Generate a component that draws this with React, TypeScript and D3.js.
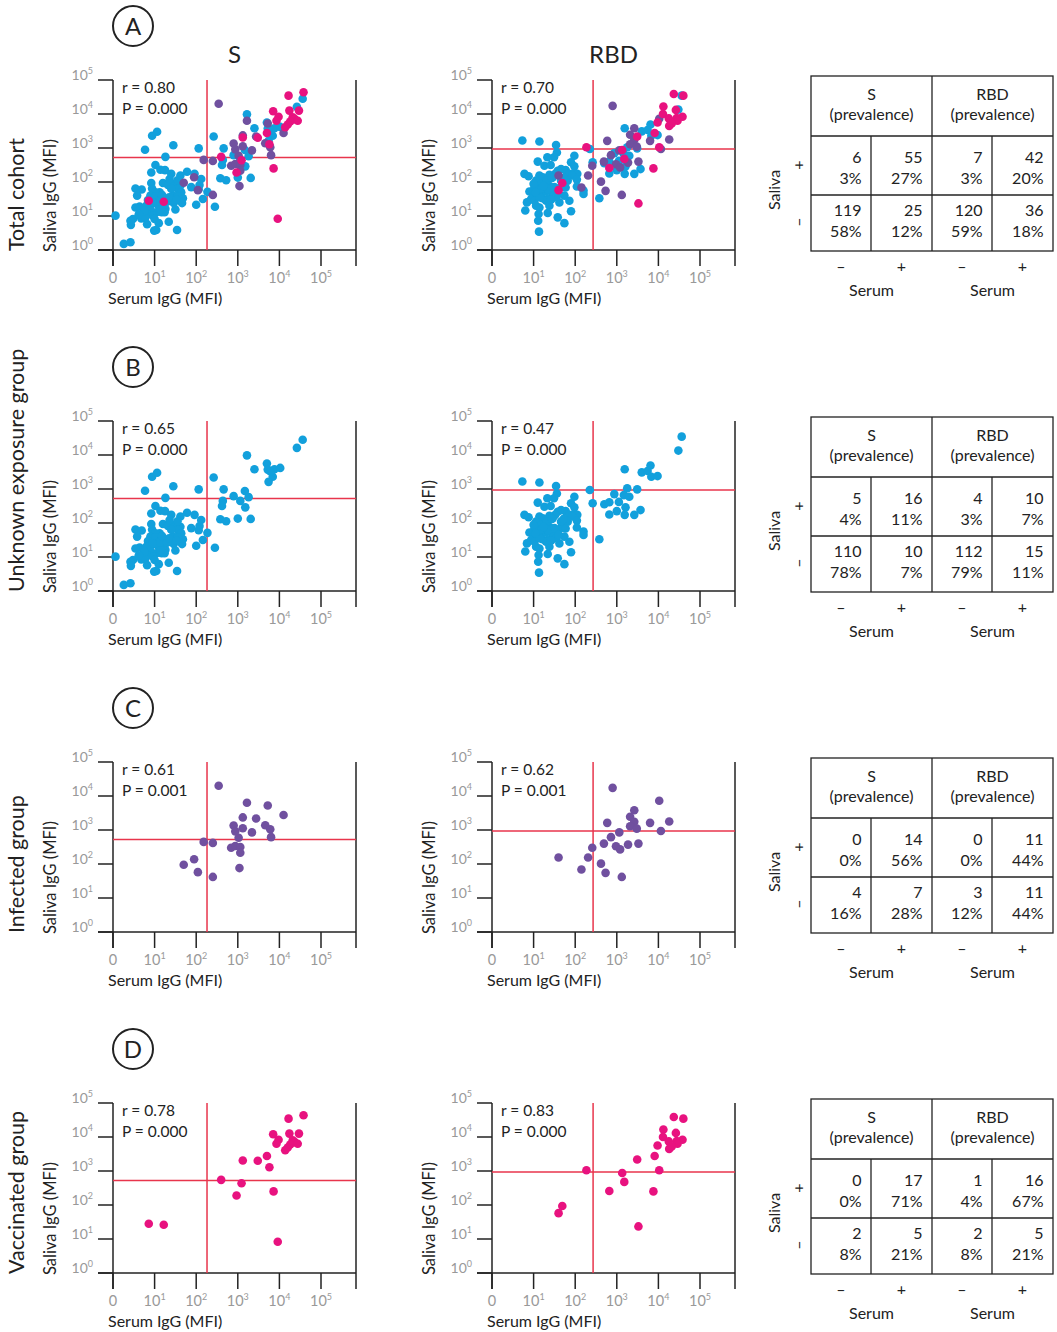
import React from 'react';
import * as d3 from 'd3';

// Each point is [log10 serum IgG MFI, log10 saliva IgG MFI]
const unknownS: [number, number][] = [
  [4.56, 4.45], [4.42, 4.21], [3.22, 3.99], [3.70, 3.75], [3.40, 3.58], [3.72, 3.57], [3.88, 3.58], [4.02, 3.62],
  [3.84, 3.36], [3.74, 3.21], [2.42, 3.34], [2.66, 2.99], [2.90, 2.79], [3.17, 2.94], [3.26, 2.76], [3.78, 3.52],
  [3.06, 2.65], [2.64, 2.65], [2.62, 2.50], [3.18, 2.46], [3.00, 2.13], [3.31, 2.12], [2.58, 2.11], [2.72, 2.05],
  [2.45, 1.27], [2.27, 1.71],
  [0.94, 3.36], [1.06, 3.48], [0.77, 2.95], [1.45, 3.08], [2.06, 2.99], [1.26, 2.74],
  [1.02, 2.50], [0.92, 2.28], [1.14, 2.36], [1.25, 2.35], [1.40, 2.24], [1.62, 2.19], [1.78, 2.30], [1.96, 2.24],
  [2.12, 2.09], [2.08, 1.91], [0.92, 1.97], [1.20, 1.97], [1.32, 1.91], [1.48, 1.94], [1.62, 1.89], [1.36, 2.09],
  [0.54, 1.81], [0.69, 1.78], [1.88, 1.85], [2.06, 1.79], [1.56, 1.79], [1.64, 1.70], [1.12, 1.70], [0.94, 1.81],
  [1.02, 1.70], [0.58, 1.60], [0.90, 1.60], [1.02, 1.58], [1.16, 1.50], [1.44, 1.60], [1.68, 1.52], [2.16, 1.50],
  [1.22, 1.52], [1.56, 1.58], [0.84, 1.47], [1.00, 1.38], [1.10, 1.30], [1.20, 1.35], [0.64, 1.28], [0.54, 1.25],
  [0.80, 1.30], [1.66, 1.38], [1.46, 1.38], [2.00, 1.33], [1.12, 1.43], [1.26, 1.21], [1.17, 1.11], [1.04, 1.11],
  [0.90, 1.19], [0.82, 1.06], [0.72, 1.01], [1.50, 1.19], [1.24, 1.11], [0.06, 1.01], [0.96, 1.01], [1.00, 0.91],
  [1.10, 0.79], [0.82, 0.76], [0.48, 0.91], [0.42, 0.86], [0.68, 0.93], [0.78, 0.96], [0.43, 0.74], [1.34, 0.83],
  [1.04, 0.59], [0.99, 0.57], [1.54, 0.59], [0.26, 0.18], [0.42, 0.23],
  [0.95, 1.40], [1.15, 1.20], [1.30, 1.42], [1.35, 1.55], [1.18, 1.62], [1.52, 1.48], [0.75, 1.15], [1.40, 1.80],
  [1.55, 2.05], [0.62, 1.05],
];

const unknownRBD: [number, number][] = [
  [4.56, 4.54], [4.48, 4.13], [3.81, 3.69], [3.19, 3.58], [3.60, 3.49], [3.74, 3.53], [3.83, 3.36], [3.98, 3.38],
  [3.25, 3.02], [3.49, 2.99],
  [2.94, 2.85], [3.17, 2.82], [3.30, 2.77], [2.42, 2.58], [3.05, 2.62], [2.70, 2.55], [2.82, 2.61], [3.21, 2.46],
  [3.00, 2.35], [2.82, 2.25], [3.19, 2.24], [3.42, 2.24], [3.57, 2.38], [2.58, 1.52],
  [0.73, 3.22], [1.14, 3.19], [1.54, 3.09], [2.35, 2.97],
  [1.56, 2.87], [1.49, 2.73], [1.98, 2.77], [1.33, 2.73], [1.10, 2.60], [1.26, 2.48], [1.41, 2.50], [1.90, 2.58],
  [1.98, 2.46], [1.66, 2.38], [1.77, 2.35], [1.58, 2.33], [1.52, 2.24], [1.38, 2.21], [1.14, 2.19], [1.22, 2.14],
  [0.78, 2.24], [0.88, 2.17], [1.06, 2.04], [1.46, 2.14], [1.86, 2.24], [1.98, 2.26], [2.05, 2.24], [1.93, 2.19],
  [2.04, 2.07], [1.82, 2.04], [1.70, 1.94], [1.64, 1.84], [1.54, 1.72], [1.38, 1.89], [1.30, 1.97], [1.18, 1.94],
  [1.10, 1.79], [1.02, 1.84], [0.90, 1.72], [1.01, 1.62], [1.14, 1.65], [1.29, 1.72], [1.45, 1.75], [1.77, 1.84],
  [1.74, 1.60], [1.86, 1.45], [1.62, 1.40], [1.45, 1.65], [1.34, 1.50], [1.21, 1.52], [1.06, 1.30], [0.84, 1.40],
  [0.80, 1.16], [1.30, 1.45], [1.38, 1.30], [1.14, 1.25], [1.12, 1.06], [1.34, 1.09], [1.58, 0.96], [1.74, 0.79],
  [1.90, 1.14], [1.11, 0.86], [1.13, 0.54], [2.20, 1.75], [2.20, 1.65], [2.04, 1.87], [0.94, 1.50], [1.02, 1.45],
  [1.54, 1.55], [1.66, 2.04],
  [1.20, 1.80], [1.35, 1.78], [1.50, 1.85], [1.15, 1.55], [1.05, 1.70], [1.42, 1.48], [1.60, 1.65], [1.32, 2.05],
  [1.00, 1.95], [1.24, 1.88], [1.72, 2.12], [1.44, 2.12],
];

const infectedS: [number, number][] = [
  [2.54, 4.30], [3.22, 3.80], [3.72, 3.72], [4.10, 3.44], [3.12, 3.37], [3.44, 3.34], [2.90, 3.13], [3.66, 3.14],
  [3.12, 3.05], [3.78, 3.02], [2.94, 2.96], [3.34, 2.93], [3.02, 2.77], [3.80, 2.79], [2.18, 2.65], [2.40, 2.62],
  [2.84, 2.48], [2.94, 2.53], [3.06, 2.50], [3.06, 2.33], [1.70, 1.98], [1.95, 2.14], [2.04, 1.76], [2.40, 1.62],
  [3.04, 1.88],
];

const infectedRBD: [number, number][] = [
  [2.90, 4.24], [4.02, 3.86], [3.42, 3.58], [3.32, 3.39], [3.42, 3.24], [2.77, 3.21], [3.80, 3.21], [4.26, 3.25],
  [3.32, 3.11], [3.48, 3.04], [3.06, 2.93], [4.06, 2.97], [2.86, 2.79], [2.69, 2.60], [2.98, 2.52], [3.08, 2.43],
  [3.27, 2.57], [3.52, 2.60], [2.41, 2.48], [1.60, 2.19], [2.31, 2.19], [2.62, 2.01], [2.15, 1.84], [2.73, 1.74],
  [3.12, 1.62],
];

const vaccinatedS: [number, number][] = [
  [4.58, 4.64], [4.22, 4.54], [3.85, 4.08], [4.24, 4.10], [4.47, 4.10], [3.98, 3.92], [3.93, 3.80], [4.32, 3.90],
  [4.37, 3.85], [4.26, 3.78], [4.44, 3.80], [4.20, 3.69], [4.14, 3.61], [3.70, 3.44], [3.12, 3.31], [3.48, 3.30],
  [3.76, 3.11], [2.60, 2.74], [3.09, 2.64], [3.86, 2.40], [2.97, 2.28], [0.86, 1.45], [1.22, 1.42], [3.96, 0.92],
];

const vaccinatedRBD: [number, number][] = [
  [4.37, 4.59], [4.60, 4.54], [4.12, 4.22], [4.42, 4.12], [4.11, 4.00], [4.58, 3.92], [4.25, 3.87], [4.44, 3.88],
  [4.46, 3.80], [3.98, 3.75], [4.26, 3.65], [3.91, 3.44], [3.49, 3.34], [2.27, 3.02], [4.02, 3.02], [3.13, 2.94],
  [3.18, 2.68], [2.82, 2.41], [3.88, 2.40], [1.69, 1.97], [1.60, 1.76], [3.52, 1.37], [4.32, 3.72],
];

const antigens = ['S', 'RBD'];
const panelLetters = ['A', 'B', 'C', 'D'];
const groupLabels = ['Total cohort', 'Unknown exposure group', 'Infected group', 'Vaccinated group'];
const corrR = [['0.80', '0.70'], ['0.65', '0.47'], ['0.61', '0.62'], ['0.78', '0.83']];
const corrP = [['0.000', '0.000'], ['0.000', '0.000'], ['0.001', '0.001'], ['0.000', '0.000']];
// positivity cut-offs, log10 MFI: [serum, saliva]
const cutoffs = [[2.26, 2.72], [2.43, 2.97]];
// per group, per antigen: [[saliva+ serum−, saliva+ serum+], [saliva− serum−, saliva− serum+]]
const tableCounts = [
  [[[6, 55], [119, 25]], [[7, 42], [120, 36]]],
  [[[5, 16], [110, 10]], [[4, 10], [112, 15]]],
  [[[0, 14], [4, 7]], [[0, 11], [3, 11]]],
  [[[0, 17], [2, 5]], [[1, 16], [2, 5]]],
];
const tablePercents = [
  [[[3, 27], [58, 12]], [[3, 20], [59, 18]]],
  [[[4, 11], [78, 7]], [[3, 7], [79, 11]]],
  [[[0, 56], [16, 28]], [[0, 44], [12, 44]]],
  [[[0, 71], [8, 21]], [[4, 67], [8, 21]]],
];
const decades = [0, 1, 2, 3, 4, 5];

const COLORS = { unknown: '#12a0dc', infected: '#70509f', vaccinated: '#e8127f' };
const RED = '#e8354c';
const INK = '#222';
const GREY = '#999';
const FONT = 'Lato, "Open Sans", sans-serif';

const W = 1057;
const H = 1332;
const ROW_STEP = 341;
const PLOT_TOP = 80;
const PLOT_H = 170;
const DECADE_W = 41.6;
const PLOT_W = 243;
const PANEL_X = [113, 492];
const TABLE_X = [811, 871, 932, 992, 1053];
const TABLE_TOP = 76;

type Series = { pts: [number, number][]; color: string };

function seriesFor(row: number, ag: number): Series[] {
  const u = { pts: ag === 0 ? unknownS : unknownRBD, color: COLORS.unknown };
  const inf = { pts: ag === 0 ? infectedS : infectedRBD, color: COLORS.infected };
  const v = { pts: ag === 0 ? vaccinatedS : vaccinatedRBD, color: COLORS.vaccinated };
  if (row === 0) return [u, inf, v];
  return [[u], [inf], [v]][row - 1];
}

function Pow({ k }: { k: number }) {
  return (
    <>
      10<tspan dy={-6} fontSize={9}>{k}</tspan>
    </>
  );
}

function Scatter({ row, ag }: { row: number; ag: number }) {
  const x0 = PANEL_X[ag];
  const top = PLOT_TOP + row * ROW_STEP;
  const bottom = top + PLOT_H;
  const x = d3.scaleLog().domain([1, 1e5]).range([x0, x0 + 5 * DECADE_W]);
  const y = d3.scaleLog().domain([1, 1e5]).range([bottom, top]);
  const right = x0 + PLOT_W;
  const [cx, cy] = cutoffs[ag];
  const series = seriesFor(row, ag);
  return (
    <g>
      {/* frame */}
      <line x1={x0} x2={x0} y1={top} y2={bottom + 16} stroke={INK} strokeWidth={1.5} />
      <line x1={right} x2={right} y1={top} y2={bottom + 16} stroke={INK} strokeWidth={1.5} />
      <line x1={x0 - 15} x2={right} y1={bottom} y2={bottom} stroke={INK} strokeWidth={1.5} />
      {decades.map((d) => (
        <g key={'y' + d}>
          <line x1={x0 - 15} x2={x0} y1={y(10 ** d)} y2={y(10 ** d)} stroke={INK} strokeWidth={1.5} />
          <text x={x0 - 20} y={y(10 ** d)} textAnchor="end" fontSize={14} fill={GREY}>
            <Pow k={d} />
          </text>
        </g>
      ))}
      {decades.map((d) => (
        <g key={'x' + d}>
          <line x1={x(10 ** d)} x2={x(10 ** d)} y1={bottom} y2={bottom + 16} stroke={INK} strokeWidth={1.5} />
          <text x={x(10 ** d)} y={bottom + 33} textAnchor="middle" fontSize={14.5} fill={GREY}>
            {d === 0 ? '0' : <Pow k={d} />}
          </text>
        </g>
      ))}
      {/* cut-off lines */}
      <line x1={x(10 ** cx)} x2={x(10 ** cx)} y1={top} y2={bottom} stroke={RED} strokeWidth={1.5} />
      <line x1={x0} x2={right} y1={y(10 ** cy)} y2={y(10 ** cy)} stroke={RED} strokeWidth={1.5} />
      {series.map((s, si) => (
        <g key={si} fill={s.color}>
          {s.pts.map((p, i) => (
            <circle key={i} cx={x(10 ** p[0])} cy={y(10 ** p[1])} r={4.3} />
          ))}
        </g>
      ))}
      <text x={x0 + 9} y={top + 13} fontSize={15.5} fill={INK}>r = {corrR[row][ag]}</text>
      <text x={x0 + 9} y={top + 34} fontSize={15.5} fill={INK}>P = {corrP[row][ag]}</text>
      <text x={x0 - 5} y={bottom + 54} fontSize={16} fill={INK}>Serum IgG (MFI)</text>
      <text
        transform={`translate(${x0 - 57},${bottom + 2}) rotate(-90)`}
        fontSize={16.5}
        fill={INK}
      >
        Saliva IgG (MFI)
      </text>
    </g>
  );
}

function Table({ row }: { row: number }) {
  const T = TABLE_TOP + row * ROW_STEP;
  const X = TABLE_X;
  const lineRows = [T + 87, T + 108];
  const rowOffset = [0, 53];
  return (
    <g fontSize={16} fill={INK}>
      <rect x={X[0]} y={T} width={X[4] - X[0]} height={175} fill="none" stroke={INK} strokeWidth={1.3} />
      <line x1={X[0]} x2={X[4]} y1={T + 60} y2={T + 60} stroke={INK} strokeWidth={1.3} />
      <line x1={X[0]} x2={X[4]} y1={T + 119} y2={T + 119} stroke={INK} strokeWidth={1.3} />
      <line x1={X[2]} x2={X[2]} y1={T} y2={T + 175} stroke={INK} strokeWidth={1.3} />
      <line x1={X[1]} x2={X[1]} y1={T + 60} y2={T + 175} stroke={INK} strokeWidth={1.3} />
      <line x1={X[3]} x2={X[3]} y1={T + 60} y2={T + 175} stroke={INK} strokeWidth={1.3} />
      {antigens.map((a, ag) => {
        const mid = (X[ag * 2] + X[ag * 2 + 2]) / 2;
        return (
          <g key={a}>
            <text x={mid} y={T + 24} textAnchor="middle">{a}</text>
            <text x={mid} y={T + 44} textAnchor="middle">(prevalence)</text>
            {[0, 1].map((r) =>
              [0, 1].map((c) => {
                const rightEdge = X[ag * 2 + c + 1] - 9.5;
                return (
                  <g key={`${r}-${c}`}>
                    <text x={rightEdge} y={lineRows[0] + rowOffset[r]} textAnchor="end">
                      {tableCounts[row][ag][r][c]}
                    </text>
                    <text x={rightEdge} y={lineRows[1] + rowOffset[r]} textAnchor="end">
                      {tablePercents[row][ag][r][c]}%
                    </text>
                  </g>
                );
              })
            )}
            {['–', '+'].map((s, c) => (
              <text key={s} x={(X[ag * 2 + c] + X[ag * 2 + c + 1]) / 2} y={T + 196} textAnchor="middle">
                {s}
              </text>
            ))}
            <text x={mid} y={T + 220} textAnchor="middle">Serum</text>
          </g>
        );
      })}
      <text transform={`translate(780,${T + 114}) rotate(-90)`} textAnchor="middle">Saliva</text>
      <text transform={`translate(804,${T + 89}) rotate(-90)`} textAnchor="middle">+</text>
      <text transform={`translate(804,${T + 146}) rotate(-90)`} textAnchor="middle">–</text>
    </g>
  );
}

export default function App() {
  return (
    <svg
      width={W}
      height={H}
      style={{ position: 'absolute', left: 0, top: 0, background: '#fff' }}
      fontFamily={FONT}
    >
      <rect width={W} height={H} fill="#fff" />
      {antigens.map((a, ag) => (
        <text key={a} x={PANEL_X[ag] + PLOT_W / 2} y={63} textAnchor="middle" fontSize={24} fill={INK}>
          {a}
        </text>
      ))}
      {panelLetters.map((letter, row) => {
        const cy = 26 + row * ROW_STEP;
        const bottom = PLOT_TOP + row * ROW_STEP + PLOT_H;
        return (
          <g key={letter}>
            <circle cx={133} cy={cy} r={20} fill="none" stroke={INK} strokeWidth={2} />
            <text x={133} y={cy + 8.5} textAnchor="middle" fontSize={24} fill={INK}>{letter}</text>
            <text transform={`translate(24,${bottom + 1}) rotate(-90)`} fontSize={21.5} fill={INK}>
              {groupLabels[row]}
            </text>
            <Scatter row={row} ag={0} />
            <Scatter row={row} ag={1} />
            <Table row={row} />
          </g>
        );
      })}
    </svg>
  );
}
